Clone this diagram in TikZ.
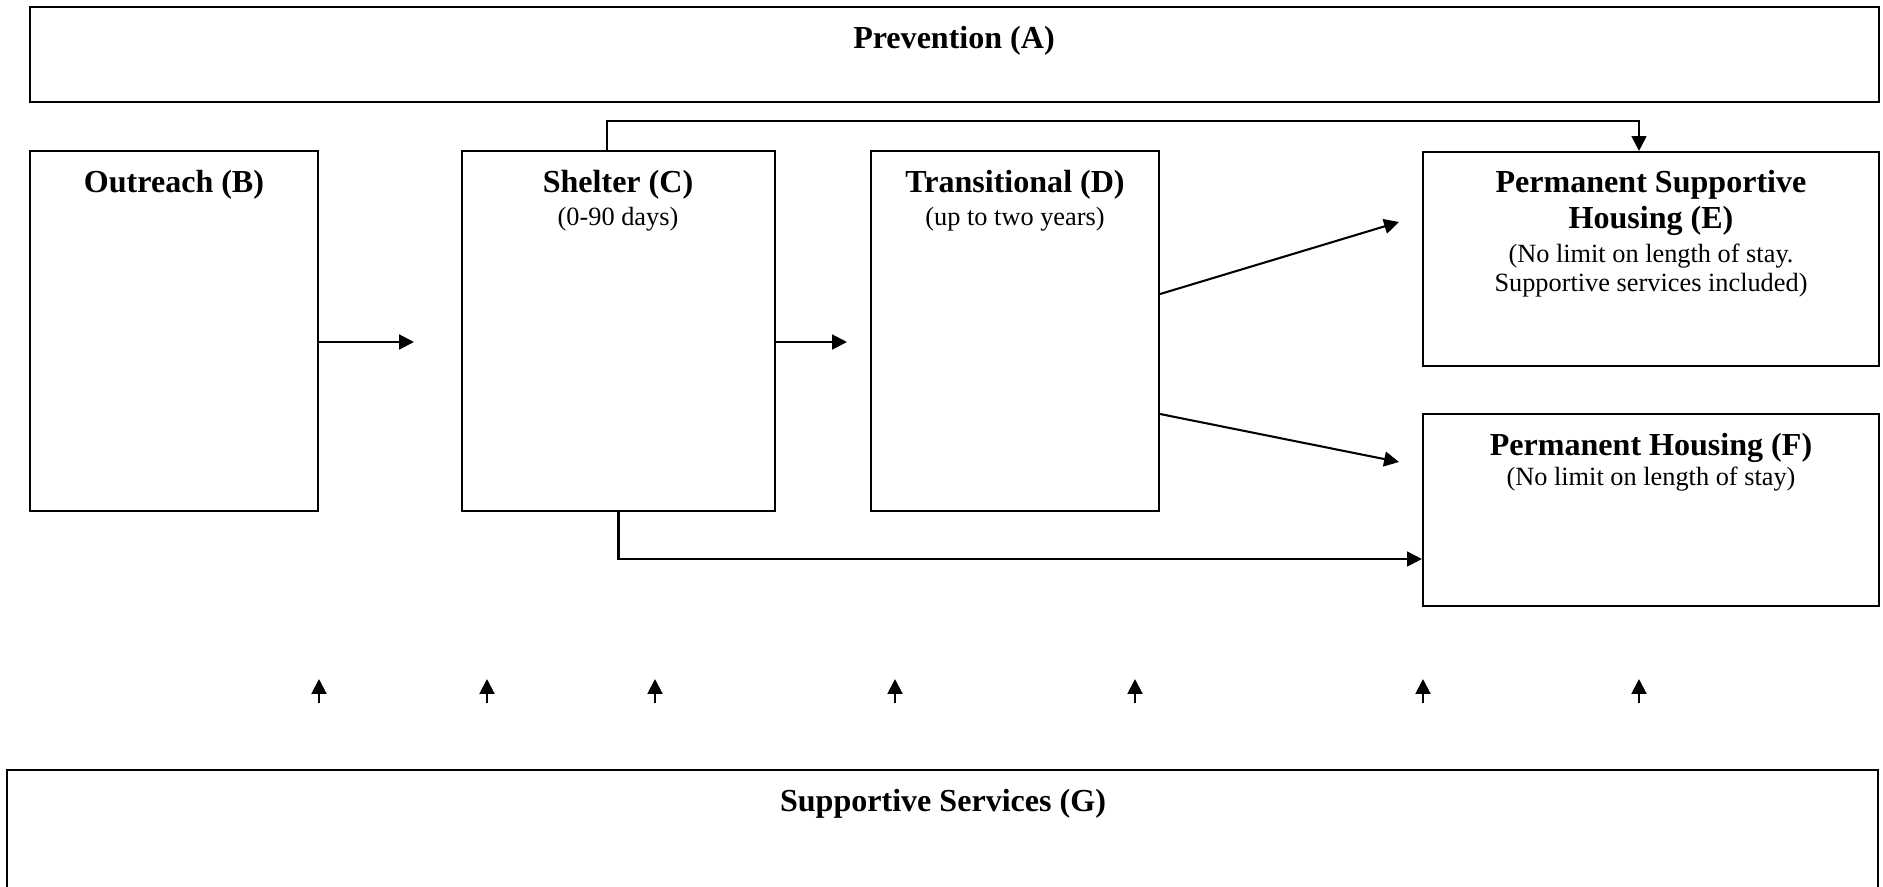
\documentclass[tikz,border=0pt]{standalone}
\usepackage{fontspec}
\setmainfont{Liberation Serif}
\usetikzlibrary{arrows.meta,fit}

\tikzset{
  box/.style={draw, line width=0.95pt, inner sep=0pt},
  head/.style={font=\fontsize{14}{16}\selectfont\bfseries, anchor=base, inner sep=0pt},
  note/.style={font=\fontsize{11.5}{13}\selectfont, anchor=base, inner sep=0pt},
  arr/.style={line width=0.9pt, -{Triangle[length=6.5pt,width=6.5pt]}}
}

\begin{document}
\begin{tikzpicture}[x=0.4367pt,y=-0.4367pt]
\path[use as bounding box, clip] (0,0) rectangle (1883,886);

% boxes
\node[box, fit={(30,7) (1879,102)}] (A) {};
\node[box, fit={(30,151) (318,511)}] (B) {};
\node[box, fit={(462,151) (775,511)}] (C) {};
\node[box, fit={(871,151) (1159,511)}] (D) {};
\node[box, fit={(1423,152) (1879,366)}] (E) {};
\node[box, fit={(1423,414) (1879,606)}] (F) {};
\node[box, fit={(7,770) (1878,920)}] (G) {};

% texts
\node[head] (Ah) at (954,48) {Prevention (A)};
\node[head] (Bh) at (174,192) {Outreach (B)};
\node[head] (Ch) at (618,192) {Shelter (C)};
\node[note] (Cn) at (618,225) {(0-90 days)};
\node[head] (Dh) at (1015,192) {Transitional (D)};
\node[note] (Dn) at (1015,225) {(up to two years)};
\node[head] (Eh1) at (1651,192) {Permanent Supportive};
\node[head] (Eh2) at (1651,228) {Housing (E)};
\node[note] (En1) at (1651,262) {(No limit on length of stay.};
\node[note] (En2) at (1651,291) {Supportive services included)};
\node[head] (Fh) at (1651,455) {Permanent Housing (F)};
\node[note] (Fn) at (1651,485) {(No limit on length of stay)};
\node[head] (Gh) at (943,811) {Supportive Services (G)};

% connectors
\coordinate (BC) at (414,342);
\coordinate (CD) at (847,342);
\coordinate (DE) at (1399,222);
\coordinate (DF) at (1399,462);
\draw[arr] (B.east |- BC) -- (BC);
\draw[arr] (C.east |- CD) -- (CD);
\draw[arr] (D.east |- 0,294) -- (DE);
\draw[arr] (D.east |- 0,414) -- (DF);
\draw[arr] (C.north -| 607,0) |- (1639,121) -- (E.north -| 1639,0);
\draw[arr] (C.south) |- (F.west |- 0,559);

% services
\foreach \x [count=\i] in {319,487,655,895,1135,1423,1639}
{
  \coordinate (lo\i) at (\x,703);
  \coordinate (hi\i) at (\x,679);
  \draw[arr] (lo\i) -- (hi\i);
}
\end{tikzpicture}
\end{document}
